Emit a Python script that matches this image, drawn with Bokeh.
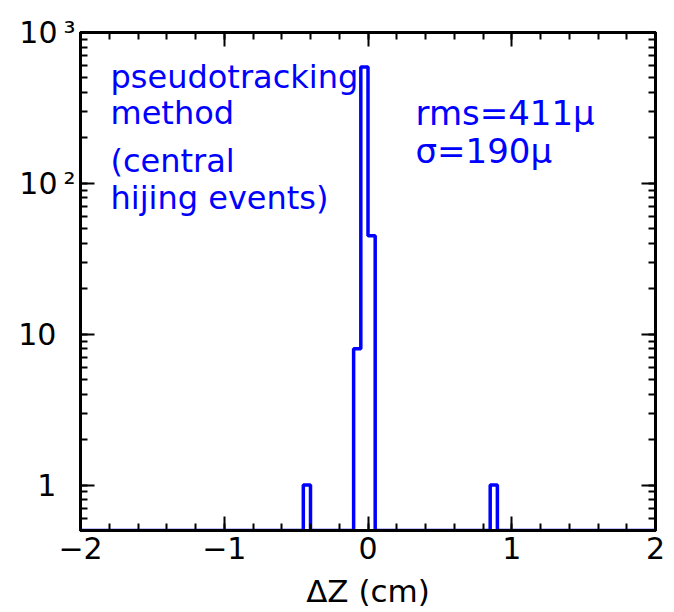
from bokeh.plotting import figure
from bokeh.models import FixedTicker, LinearAxis, LogAxis, Label
from bokeh.embed import file_html
from bokeh.resources import INLINE

# ---- data (histogram of Delta Z, bin width 0.05 cm, range -2..2) ----
bin_width = 0.05
x_min, x_max = -2.0, 2.0
bin_lo = [-0.45, -0.10, -0.05, 0.0, 0.85]
counts = [1, 8, 590, 45, 1]
y_min, y_max = 0.5, 1000
x_ticks = [-2, -1, 0, 1, 2]
x_tick_labels = ["\u22122", "\u22121", "0", "1", "2"]
y_ticks = [1, 10, 100, 1000]
# figure space / thin space keep the mantissas aligned, exponents stick out
y_tick_labels = ["1\u2007", "10\u2007", "10\u2009\u00b2", "10\u2009\u00b3"]
note_lines = ["pseudotracking", "method", "(central", "hijing events)"]
stat_lines = ["rms=411\u03bc", "\u03c3=190\u03bc"]

FONT = "DejaVu Sans"
BLUE = "#0000ff"

# build step outline from the bins
nbins = int(round((x_max - x_min) / bin_width))
full = [0] * nbins
for lo, c in zip(bin_lo, counts):
    full[int(round((lo - x_min) / bin_width))] = c
xs, ys = [], []
for i, c in enumerate(full):
    v = c if c > 0 else y_min
    left = x_min + i * bin_width
    xs += [left, left + bin_width]
    ys += [v, v]

p = figure(width=674, height=612, y_axis_type="log",
           x_range=(x_min, x_max), y_range=(y_min, y_max),
           output_backend="svg", toolbar_location=None,
           min_border_left=80, min_border_right=19,
           min_border_top=32, min_border_bottom=82)
p.grid.visible = False
p.outline_line_color = "black"
p.outline_line_width = 3
p.background_fill_color = "white"
p.border_fill_color = "white"

p.line(xs, ys, line_color=BLUE, line_width=3.5)

minor_x = [round(x_min + 0.2 * i, 2) for i in range(21)]
minor_y = [m * 10.0 ** e for e in range(-1, 3) for m in range(1, 10)]

def style_axis(ax, labels=True):
    ax.axis_line_color = "black"
    ax.axis_line_width = 3
    ax.major_tick_in = 14
    ax.major_tick_out = 0
    ax.minor_tick_in = 7
    ax.minor_tick_out = 0
    ax.major_tick_line_color = "black"
    ax.minor_tick_line_color = "black"
    ax.major_tick_line_width = 2
    ax.minor_tick_line_width = 2
    ax.major_label_text_font = FONT
    ax.major_label_text_font_size = "30px"
    ax.major_label_text_color = "black"
    if not labels:
        ax.major_label_text_font_size = "1px"
        ax.major_label_text_color = None
        ax.major_label_standoff = 0

xa = p.xaxis[0]
xa.ticker = FixedTicker(ticks=x_ticks, minor_ticks=minor_x)
style_axis(xa)
xa.major_label_overrides = {t: l for t, l in zip(x_ticks, x_tick_labels)}
xa.major_label_standoff = 6
xa.axis_label = "\u0394Z (cm)"
xa.axis_label_text_font = FONT
xa.axis_label_text_font_size = "31px"
xa.axis_label_text_font_style = "normal"
xa.axis_label_text_color = "black"
xa.axis_label_standoff = 11

ya = p.yaxis[0]
ya.ticker = FixedTicker(ticks=y_ticks, minor_ticks=minor_y)
style_axis(ya)
ya.major_label_overrides = {t: l for t, l in zip(y_ticks, y_tick_labels)}
ya.major_label_standoff = 5

top = LinearAxis(ticker=FixedTicker(ticks=x_ticks, minor_ticks=minor_x))
style_axis(top, labels=False)
p.add_layout(top, "above")
right = LogAxis(ticker=FixedTicker(ticks=y_ticks, minor_ticks=minor_y))
style_axis(right, labels=False)
p.add_layout(right, "right")

# annotations
for line_text, base in zip(note_lines, [44, 80, 128, 165]):
    p.add_layout(Label(x=x_min, y=y_max, text=line_text, x_offset=30, y_offset=-base,
                       text_align="left", text_baseline="alphabetic",
                       text_font=FONT, text_font_size="32px", text_color=BLUE))
for line_text, base in zip(stat_lines, [80, 118]):
    p.add_layout(Label(x=x_min, y=y_max, text=line_text, x_offset=335, y_offset=-base,
                       text_align="left", text_baseline="alphabetic",
                       text_font=FONT, text_font_size="34px", text_color=BLUE))

open("out.html", "w").write(file_html(p, INLINE))
